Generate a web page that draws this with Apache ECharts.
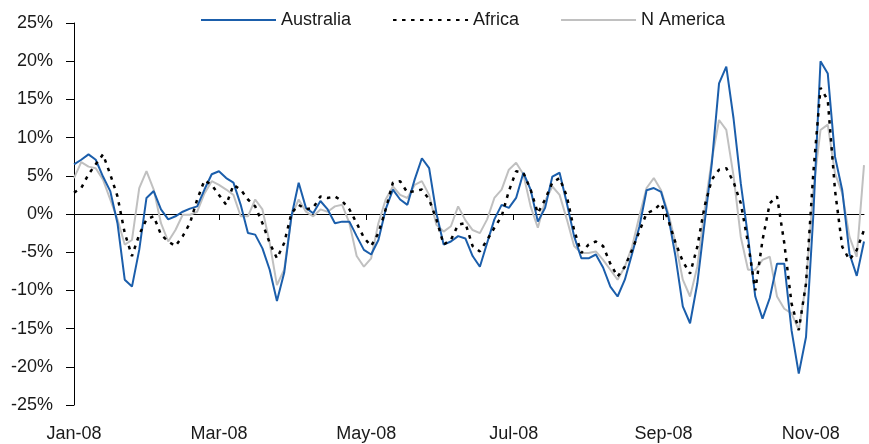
<!DOCTYPE html>
<html>
<head>
<meta charset="utf-8">
<script src="https://cdn.jsdelivr.net/npm/echarts@6/dist/echarts.min.js"></script>
<style>
  html, body { margin: 0; padding: 0; background: #fff; }
  #chart { width: 869px; height: 444px; }
</style>
</head>
<body>
<div id="chart"></div>
<script>
  // one point every 3 calendar days from 1 Jan 2008
  const stepDays = 3

  const tickLabels = ['Jan-08', 'Mar-08', 'May-08', 'Jul-08', 'Sep-08', 'Nov-08']
  const tickMonths = [0, 2, 4, 6, 8, 10]

  const australia = [
    6.5, 7.1, 7.8, 7.1, 4.9, 3.0, -1.2, -8.6, -9.5, -4.7,
    2.1, 3.0, 0.6, -0.7, -0.3, 0.3, 0.7, 1.0, 3.2, 5.2,
    5.6, 4.7, 4.1, 1.2, -2.5, -2.7, -4.5, -7.3, -11.4, -7.7,
    -0.3, 4.1, 0.8, 0.1, 1.7, 0.6, -1.2, -1.0, -1.0, -2.9,
    -4.7, -5.3, -3.4, 0.6, 3.2, 1.9, 1.2, 4.5, 7.3, 6.0,
    0.1, -4.0, -3.6, -2.9, -3.2, -5.5, -6.9, -3.8, -0.7, 1.2,
    0.8, 2.1, 5.4, 3.2, -1.0, 0.8, 4.9, 5.4, 1.4, -2.9,
    -5.8, -5.8, -5.3, -7.0, -9.5, -10.8, -8.6, -5.2, -1.7, 3.1,
    3.4, 2.9, -0.3, -5.6, -12.1, -14.3, -9.1, -1.2, 6.6, 17.1,
    19.3, 12.5, 4.0, -3.0, -10.8, -13.7, -11.0, -6.5, -6.5, -15.2,
    -20.9, -16.1, -0.3, 20.0, 18.4, 7.5, 3.1, -5.2, -8.1, -3.6
  ]
  const africa = [
    2.8, 3.4, 5.2, 6.5, 7.8, 5.2, 2.3, -2.5, -5.5, -2.7,
    -0.7, -0.3, -2.7, -3.6, -4.2, -2.9, -1.2, 1.9, 4.4, 3.8,
    2.5, 1.2, 3.8, 3.2, 1.9, 1.0, -1.2, -3.8, -5.8, -3.8,
    0.1, 1.2, 0.6, 0.8, 2.3, 2.1, 2.3, 1.7, 0.6, -1.2,
    -3.1, -4.2, -2.5, 0.6, 4.1, 4.3, 2.8, 3.0, 3.2, 1.9,
    -0.7, -4.0, -3.4, -1.4, -1.2, -4.2, -4.9, -3.4, -1.8, -0.3,
    3.0, 5.6, 5.4, 3.2, 0.1, 1.9, 4.1, 4.7, 2.3, -2.1,
    -5.1, -4.0, -3.6, -4.2, -6.5, -8.2, -6.9, -4.7, -2.3, 0.1,
    0.5, 1.4, -0.8, -3.8, -6.2, -7.8, -4.3, 1.0, 4.5, 5.8,
    6.0, 4.2, 1.4, -3.8, -10.0, -3.4, 1.4, 2.3, -3.8, -11.7,
    -15.2, -9.1, 5.3, 16.5, 14.9, 3.1, -4.3, -6.0, -4.7, -2.1
  ]
  const nAmerica = [
    4.7, 6.8, 6.2, 6.0, 4.5, 1.9, -0.7, -4.0, -3.4, 3.4,
    5.6, 3.2, -1.2, -3.6, -2.1, -0.1, -0.1, 0.3, 2.7, 4.3,
    3.8, 3.2, 2.5, -0.3, -0.3, 1.9, 0.6, -3.8, -9.3, -7.3,
    -0.3, 1.9, 0.3, -0.3, 0.6, 0.3, 1.0, 1.2, -1.2, -5.5,
    -6.9, -5.8, -1.2, 1.9, 3.6, 2.5, 2.1, 3.8, 4.3, 2.5,
    -1.4, -2.3, -1.6, 1.0, -0.8, -2.1, -2.5, -0.7, 2.1, 3.2,
    5.8, 6.7, 5.2, 1.0, -1.8, 1.7, 3.6, 2.5, -0.7, -4.2,
    -5.1, -5.1, -4.9, -6.0, -7.3, -8.6, -6.9, -4.3, -0.3, 3.4,
    4.7, 3.1, 0.1, -3.8, -8.6, -10.8, -6.9, 0.5, 7.1, 12.3,
    11.0, 5.0, -3.0, -7.3, -7.3, -6.0, -5.6, -10.8, -12.4, -13.0,
    -15.2, -9.1, 3.1, 11.0, 11.7, 5.3, 2.7, -3.0, -5.6, 6.4
  ]

  // x = days since 1 Jan 2008
  const DAY = 86400000
  const jan1 = new Date(2008, 0, 1).getTime()
  const days = australia.map((v, i) => i * stepDays)
  const tickDays = tickMonths.map(m => Math.round((new Date(2008, m, 1).getTime() - jan1) / DAY))

  function pairs(values) {
    return values.map((v, i) => [days[i], v])
  }

  const font = 'Arial, "Liberation Sans", sans-serif'

  const chart = echarts.init(document.getElementById('chart'))
  chart.setOption({
    animation: false,
    backgroundColor: '#fff',
    grid: { left: 74, right: 5, top: 23, bottom: 39, containLabel: false, outerBoundsMode: 'none' },
    legend: {
      top: 11,
      left: 200,
      padding: 0,
      itemWidth: 75,
      itemHeight: 14,
      itemGap: 41,
      itemStyle: { opacity: 0 },
      textStyle: { fontSize: 18, color: '#1a1a1a', fontFamily: font },
      data: ['Australia', 'Africa', 'N America']
    },
    xAxis: {
      type: 'value',
      min: 0,
      max: days[days.length - 1],
      axisLine: { onZero: true, lineStyle: { color: '#000', width: 1 } },
      axisTick: { show: true, customValues: tickDays, length: 6, lineStyle: { color: '#000' } },
      axisLabel: {
        customValues: tickDays,
        margin: 20,
        fontSize: 18,
        color: '#1a1a1a',
        fontFamily: font,
        formatter: function (v) {
          const k = tickDays.indexOf(v)
          return k >= 0 ? tickLabels[k] : ''
        }
      },
      splitLine: { show: false }
    },
    yAxis: {
      type: 'value',
      min: -25,
      max: 25,
      interval: 5,
      axisLine: { show: true, lineStyle: { color: '#000', width: 1 } },
      axisTick: { show: true, length: 8, lineStyle: { color: '#000' } },
      axisLabel: { formatter: '{value}%', fontSize: 18, color: '#1a1a1a', fontFamily: font, margin: 21 },
      splitLine: { show: false }
    },
    series: [
      {
        name: 'Australia',
        type: 'line',
        symbol: 'none',
        data: pairs(australia),
        lineStyle: { color: '#1B5EAB', width: 2 },
        itemStyle: { color: '#1B5EAB' },
        z: 3
      },
      {
        name: 'Africa',
        type: 'line',
        symbol: 'none',
        data: pairs(africa),
        lineStyle: { color: '#000', width: 2.5, type: [3.5, 5.5] },
        itemStyle: { color: '#000' },
        z: 4
      },
      {
        name: 'N America',
        type: 'line',
        symbol: 'none',
        data: pairs(nAmerica),
        lineStyle: { color: '#C0C0C0', width: 2 },
        itemStyle: { color: '#C0C0C0' },
        z: 2
      }
    ]
  })
</script>
</body>
</html>
